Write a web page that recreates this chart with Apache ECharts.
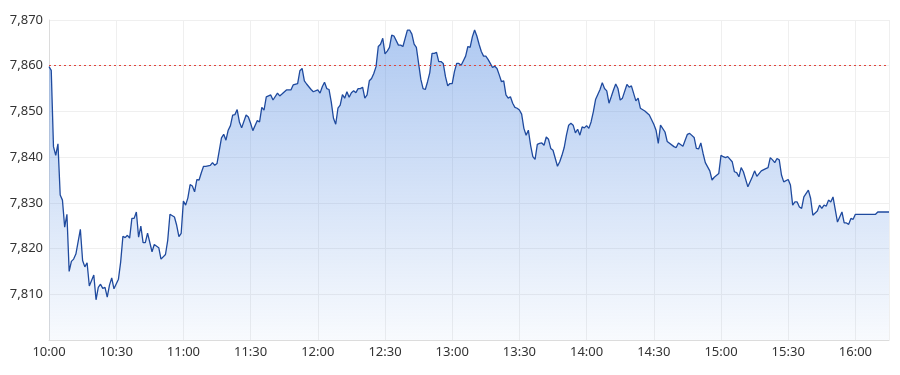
<!DOCTYPE html>
<html>
<head>
<meta charset="utf-8">
<script src="https://cdn.jsdelivr.net/npm/echarts@6/dist/echarts.min.js"></script>
<style>
html,body{margin:0;padding:0;background:#fff;}
#chart{width:900px;height:375px;}
</style>
</head>
<body>
<div id="chart"></div>
<script>
// minutes after 10:00
const minutes = [0,1,2,3,4,5,6,7,8,9,10,11,12,14,15,16,17,18,20,21,22,23,24,25,26,27,28,29,31,32,33,34,35,36,37,38,39,40,41,42,43,44,46,47,49,50,52,53,54,56,57,58,59,60,61,62,63,64,65,66,67,68,69,70,72,73,74,75,77,78,79,80,81,82,83,84,85,86,88,89,90,91,93,94,95,96,97,99,100,102,103,104,106,108,109,111,112,113,114,115,117,118,120,121,122,123,124,125,126,127,128,129,130,131,132,133,134,135,136,137,138,139,140,141,142,143,144,145,146,147,148,149,150,151,152,153,154,156,157,158,160,161,162,163,164,165,166,167,168,169,170,171,172,173,174,175,176,177,178,179,180,181,182,183,184,185,186,187,188,189,190,191,192,193,194,195,196,197,198,199,200,201,202,203,204,205,206,207,208,209,210,211,212,213,214,215,216,217,218,219,220,221,222,223,224,225,227,228,229,230,231,232,233,234,235,236,237,238,239,240,241,242,243,244,245,246,247,248,249,250,251,252,253,254,255,256,258,259,260,262,263,264,266,268,270,271,272,273,275,276,279,280,281,283,285,286,288,289,290,291,292,293,295,296,297,299,300,301,302,303,305,306,307,308,309,310,312,314,315,316,318,320,321,322,323,324,325,326,327,328,330,331,332,333,334,335,336,337,339,340,341,343,344,345,346,347,348,349,350,352,353,354,355,356,357,358,359,360,369,370,375];
const prices = [7859.8,7859.0,7842.3,7840.4,7842.9,7831.7,7830.6,7824.7,7827.5,7815.0,7817.2,7817.7,7818.8,7824.2,7817.4,7816.0,7816.9,7811.8,7814.2,7808.8,7811.5,7812.2,7811.3,7811.5,7809.4,7812.0,7813.6,7811.2,7813.3,7817.1,7822.7,7822.4,7822.9,7822.3,7826.6,7826.6,7828.0,7822.5,7824.9,7821.3,7821.3,7823.4,7819.3,7820.9,7820.2,7817.7,7818.7,7821.8,7827.5,7826.9,7825.1,7822.6,7823.3,7830.4,7829.5,7831.1,7834.0,7833.7,7832.4,7835.1,7835.0,7836.6,7838.0,7838.0,7838.2,7838.8,7838.2,7838.6,7844.2,7845.0,7843.7,7845.9,7846.9,7849.2,7849.3,7850.4,7847.7,7846.4,7849.2,7848.8,7847.4,7845.8,7848.0,7847.7,7850.9,7850.3,7853.2,7853.6,7852.5,7854.0,7853.4,7853.8,7854.7,7854.7,7855.8,7856.1,7858.9,7859.4,7856.7,7856.0,7854.8,7854.3,7854.7,7854.0,7855.4,7856.4,7855.0,7854.8,7852.1,7848.5,7847.2,7850.7,7851.4,7853.7,7852.9,7854.3,7853.1,7854.1,7854.5,7854.1,7855.0,7855.0,7855.3,7852.9,7853.6,7856.7,7857.2,7858.3,7859.8,7864.2,7864.7,7866.0,7862.6,7863.2,7864.0,7866.7,7866.5,7864.5,7864.5,7864.2,7867.8,7867.8,7866.9,7864.7,7864.0,7860.5,7857.0,7855.0,7854.8,7856.5,7858.5,7862.7,7862.7,7862.9,7860.9,7860.9,7860.5,7857.6,7855.6,7856.1,7856.1,7858.7,7860.5,7860.5,7860.1,7861.1,7862.1,7864.2,7864.0,7866.3,7867.8,7866.5,7864.7,7863.1,7862.1,7862.1,7861.4,7860.5,7859.6,7859.9,7859.4,7858.0,7856.5,7856.7,7853.6,7852.9,7853.2,7851.8,7850.9,7850.7,7850.3,7849.4,7846.3,7844.8,7845.9,7842.6,7840.1,7839.5,7842.8,7843.0,7843.1,7842.6,7844.4,7843.9,7841.9,7841.5,7838.0,7839.0,7840.4,7842.1,7844.8,7847.0,7847.4,7847.0,7845.3,7846.1,7844.8,7846.6,7846.4,7846.9,7846.3,7847.7,7849.9,7852.6,7853.7,7854.8,7856.3,7855.0,7854.5,7851.8,7853.2,7854.7,7856.0,7855.0,7852.5,7852.9,7855.9,7855.3,7855.6,7852.3,7852.9,7850.7,7850.1,7849.2,7847.2,7845.9,7843.0,7847.0,7845.5,7843.4,7842.3,7842.1,7843.1,7842.4,7845.0,7845.2,7844.3,7841.9,7841.8,7843.1,7840.8,7838.8,7837.0,7835.0,7835.6,7836.4,7840.4,7840.1,7839.9,7840.1,7839.0,7836.8,7836.6,7835.7,7837.7,7836.8,7833.5,7835.7,7837.0,7835.8,7837.0,7837.5,7837.7,7839.9,7839.4,7838.8,7839.7,7839.4,7836.1,7834.6,7835.1,7833.9,7829.5,7830.2,7830.2,7829.1,7828.8,7831.3,7832.8,7831.0,7827.3,7828.2,7829.5,7828.8,7829.5,7829.3,7830.6,7830.2,7831.3,7825.8,7826.9,7828.0,7825.6,7825.6,7825.3,7826.6,7826.4,7827.5,7827.5,7828.0,7828.0];
const prevClose = 7860;
const xTickLabels = ['10:00','10:30','11:00','11:30','12:00','12:30','13:00','13:30','14:00','14:30','15:00','15:30','16:00'];
const yTicks = [7800,7810,7820,7830,7840,7850,7860,7870];

const chart = echarts.init(document.getElementById('chart'));
const font = 'Noto Sans';
chart.setOption({
  animation: false,
  grid: {left: 49, right: 11, top: 20, bottom: 35},
  xAxis: {
    type: 'value', min: 0, max: 375, interval: 30,
    axisLine: {show: true, lineStyle: {color: '#dcdcdc'}},
    axisTick: {show: false},
    splitLine: {show: true, lineStyle: {color: '#efefef'}},
    axisLabel: {
      color: '#333', fontSize: 13, fontFamily: font, margin: 6, showMaxLabel: false,
      formatter: v => (v % 30 === 0 && xTickLabels[v / 30]) ? xTickLabels[v / 30] : ''
    }
  },
  yAxis: {
    type: 'value', min: yTicks[0], max: yTicks[yTicks.length - 1], interval: 10,
    axisLine: {show: true, lineStyle: {color: '#dcdcdc'}},
    axisTick: {show: false},
    splitLine: {show: true, lineStyle: {color: '#efefef'}},
    axisLabel: {
      color: '#333', fontSize: 13, fontFamily: font, margin: 6, showMinLabel: false,
      formatter: v => v.toLocaleString('en-US')
    }
  },
  series: [{
    type: 'line',
    data: minutes.map((m, i) => [m, prices[i]]),
    showSymbol: false,
    lineStyle: {color: '#1f4a9e', width: 1.3},
    itemStyle: {color: '#1f4a9e'},
    areaStyle: {
      opacity: 1,
      color: new echarts.graphic.LinearGradient(0, 0, 0, 1, [
        {offset: 0, color: 'rgba(85,140,225,0.47)'},
        {offset: 1, color: 'rgba(85,140,225,0.04)'}
      ])
    },
    markLine: {
      silent: true, symbol: 'none', label: {show: false},
      lineStyle: {color: '#e0443a', type: [2, 3], width: 1},
      data: [{yAxis: prevClose}]
    }
  }]
});
</script>
</body>
</html>
